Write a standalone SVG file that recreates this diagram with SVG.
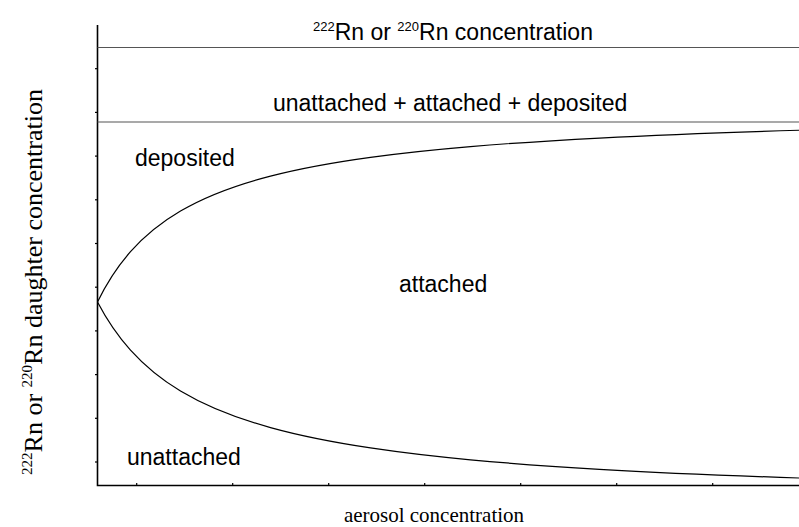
<svg xmlns="http://www.w3.org/2000/svg" width="799" height="527" viewBox="0 0 799 527">
<style>
.sans{font-family:"Liberation Sans",Arial,sans-serif;font-size:23px;fill:#000}
.serif{font-family:"Liberation Serif","Times New Roman",serif;fill:#000}
.axis{stroke:#000;stroke-width:1.6;fill:none}
.tick{stroke:#000;stroke-width:1.2}
.level{stroke:#555;stroke-width:1.2}
.curve{stroke:#000;stroke-width:1.2;fill:none}
</style>
<rect width="799" height="527" fill="#fff"/>
<g id="axes">
<path class="axis" d="M97.5,25 V485.5 H799"/>
<g id="yticks">
<line class="tick" x1="95" y1="68.7" x2="97.5" y2="68.7"/>
<line class="tick" x1="95" y1="112.4" x2="97.5" y2="112.4"/>
<line class="tick" x1="95" y1="156.1" x2="97.5" y2="156.1"/>
<line class="tick" x1="95" y1="199.8" x2="97.5" y2="199.8"/>
<line class="tick" x1="95" y1="243.5" x2="97.5" y2="243.5"/>
<line class="tick" x1="95" y1="287.2" x2="97.5" y2="287.2"/>
<line class="tick" x1="95" y1="330.9" x2="97.5" y2="330.9"/>
<line class="tick" x1="95" y1="374.6" x2="97.5" y2="374.6"/>
<line class="tick" x1="95" y1="418.3" x2="97.5" y2="418.3"/>
<line class="tick" x1="95" y1="462" x2="97.5" y2="462"/>
</g>
<g id="xticks">
<line class="tick" x1="136.7" y1="483" x2="136.7" y2="485.5"/>
<line class="tick" x1="232.7" y1="483" x2="232.7" y2="485.5"/>
<line class="tick" x1="328.7" y1="483" x2="328.7" y2="485.5"/>
<line class="tick" x1="424.7" y1="483" x2="424.7" y2="485.5"/>
<line class="tick" x1="520.7" y1="483" x2="520.7" y2="485.5"/>
<line class="tick" x1="616.7" y1="483" x2="616.7" y2="485.5"/>
<line class="tick" x1="712.7" y1="483" x2="712.7" y2="485.5"/>
</g>
</g>
<g id="connectors">
<line class="level" x1="97.5" y1="47.5" x2="799" y2="47.5"/>
<line class="level" x1="97.5" y1="122" x2="799" y2="122"/>
<path class="curve" d="M97.5,302 C108.5,279.42 119.5,264.14 130.5,251.7 C147.17,232.85 163.83,220.82 180.5,211.07 C210.5,193.53 240.5,183.86 270.5,176.12 C303.83,167.52 337.17,161.9 370.5,157.34 C403.83,152.78 437.17,149.4 470.5,146.58 C513.5,142.94 556.5,140.27 599.5,138.03 C666.17,134.56 732.83,132.19 799.5,130.24"/>
<path class="curve" d="M97.5,302 C108.5,323 119.5,337.9 130.5,350.1 C147.17,368.6 163.83,381 180.5,391 C210.5,409 240.5,419.3 270.5,427.6 C303.83,436.8 337.17,442.9 370.5,447.9 C403.83,452.9 437.17,456.7 470.5,459.8 C513.5,463.8 556.5,466.8 599.5,469.3 C666.17,473.2 732.83,475.8 799.5,478"/>
</g>
<g id="total-radon">
<text class="sans" x="313" y="40"><tspan font-size="13" dy="-9">222</tspan><tspan dy="9">Rn or </tspan><tspan font-size="13" dy="-9">220</tspan><tspan dy="9">Rn concentration</tspan></text>
</g>
<g id="total-daughters">
<text class="sans" x="273" y="111">unattached + attached + deposited</text>
</g>
<g id="deposited"><text class="sans" x="135" y="166">deposited</text></g>
<g id="attached"><text class="sans" x="399" y="292">attached</text></g>
<g id="unattached"><text class="sans" x="127" y="465">unattached</text></g>
<g id="x-label"><text class="serif" font-size="21" x="434" y="522" text-anchor="middle">aerosol concentration</text></g>
<g id="y-label"><text class="serif" font-size="26" transform="translate(42,282) rotate(-90)" text-anchor="middle"><tspan font-size="15" dy="-10">222</tspan><tspan dy="10">Rn or </tspan><tspan font-size="15" dy="-10">220</tspan><tspan dy="10">Rn daughter concentration</tspan></text></g>
</svg>
